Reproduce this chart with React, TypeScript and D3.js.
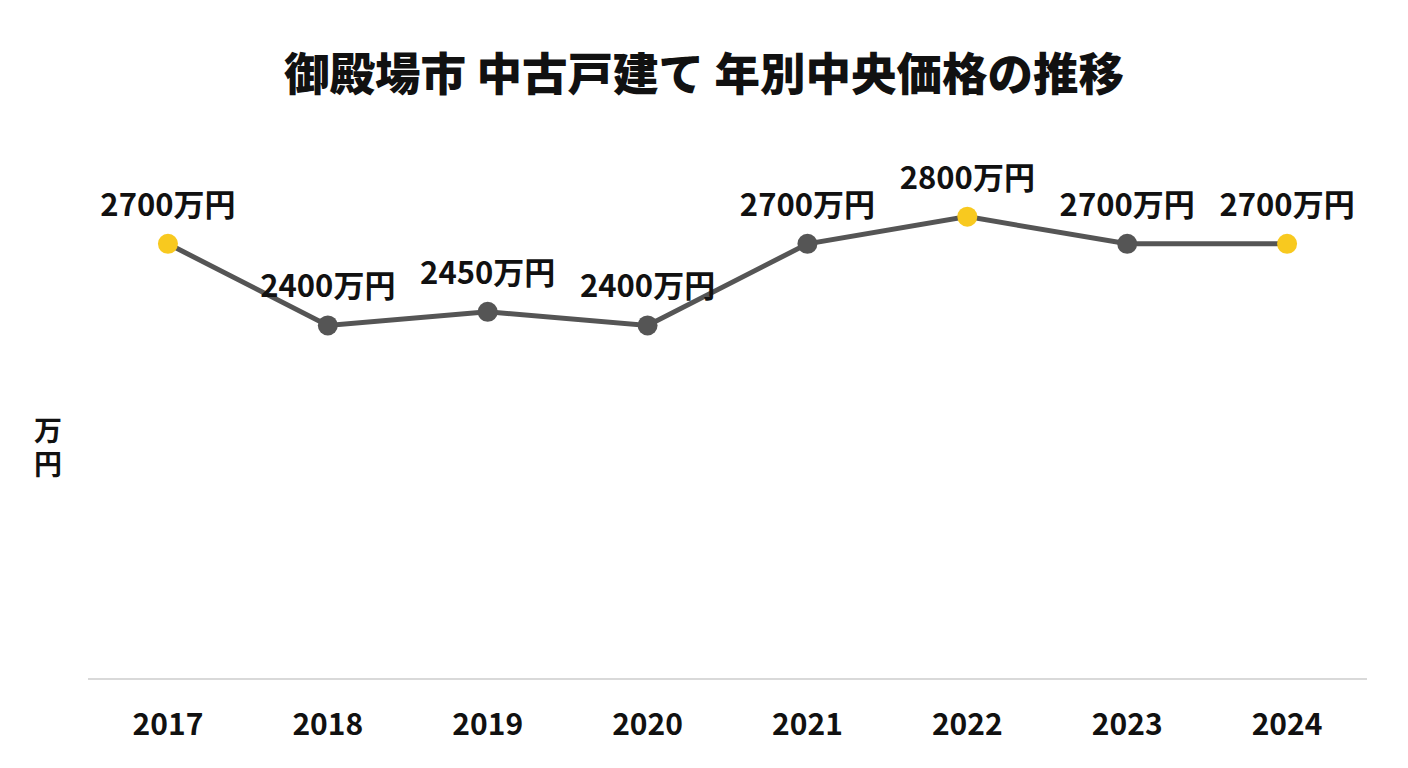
import React from 'react';
import * as d3 from 'd3';

const years = ['2017', '2018', '2019', '2020', '2021', '2022', '2023', '2024'];
const prices = [2700, 2400, 2450, 2400, 2700, 2800, 2700, 2700];
const title = '御殿場市 中古戸建て 年別中央価格の推移';
const unitLabel = '万円';

const WIDTH = 1408;
const HEIGHT = 768;
const FONT = '"Noto Sans CJK JP", "Noto Sans", sans-serif';
const LINE_COLOR = '#555555';
const HIGHLIGHT = '#F8C91F';

const margin = { top: 150, right: 41, bottom: 89, left: 88 };

export default function App() {
  const innerBottom = HEIGHT - margin.bottom;

  const x = d3
    .scaleBand<string>()
    .domain(years)
    .range([margin.left, WIDTH - margin.right]);

  const y = d3.scaleLinear().domain([1100, 3045]).range([innerBottom, margin.top]);

  const cx = (yr: string) => (x(yr) as number) + x.bandwidth() / 2;

  const line = d3
    .line<number>()
    .x((_, i) => cx(years[i]))
    .y((d) => y(d));

  const maxVal = d3.max(prices) as number;
  const isHighlight = (i: number) =>
    i === 0 || i === prices.length - 1 || prices[i] === maxVal;

  return (
    <div style={{ position: 'fixed', left: 0, top: 0 }}>
      <svg width={WIDTH} height={HEIGHT} style={{ display: 'block', background: '#fff' }}>
        <text
          x={WIDTH / 2}
          y={91}
          textAnchor="middle"
          fontFamily={FONT}
          fontWeight={900}
          fontSize={45.5}
          fill="#111"
        >
          {title}
        </text>

        {/* unit label, set vertically */}
        <text
          x={48}
          y={416}
          style={{ writingMode: 'vertical-rl', letterSpacing: '6px' }}
          fontFamily={FONT}
          fontWeight={700}
          fontSize={28}
          fill="#111"
        >
          {unitLabel}
        </text>

        <line
          x1={margin.left}
          x2={WIDTH - margin.right}
          y1={innerBottom}
          y2={innerBottom}
          stroke="#d9d9d9"
          strokeWidth={2}
        />

        {years.map((yr) => (
          <text
            key={yr}
            x={cx(yr)}
            y={735}
            textAnchor="middle"
            fontFamily={FONT}
            fontWeight={700}
            fontSize={30}
            fill="#111"
          >
            {yr}
          </text>
        ))}

        <path d={line(prices) || ''} fill="none" stroke={LINE_COLOR} strokeWidth={5} />

        {prices.map((p, i) => (
          <circle
            key={years[i]}
            cx={cx(years[i])}
            cy={y(p)}
            r={10}
            fill={isHighlight(i) ? HIGHLIGHT : LINE_COLOR}
          />
        ))}

        {prices.map((p, i) => (
          <text
            key={'l' + years[i]}
            x={cx(years[i])}
            y={y(p) - 28}
            textAnchor="middle"
            fontFamily={FONT}
            fontWeight={700}
            fontSize={31}
            fill="#111"
          >
            {p}万円
          </text>
        ))}
      </svg>
    </div>
  );
}
